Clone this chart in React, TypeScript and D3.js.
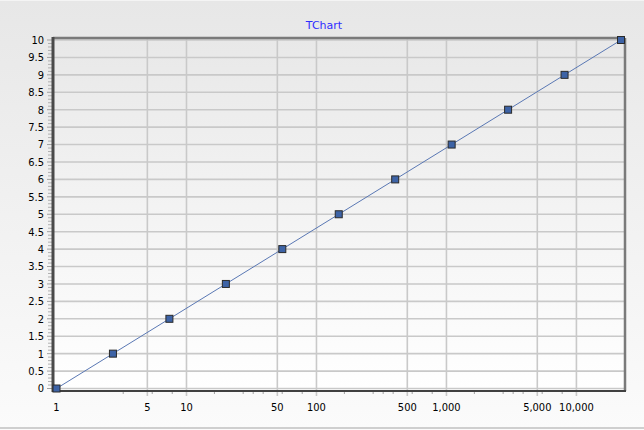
import React from "react";
import * as d3 from "d3";

const xValues = [1, 2.718, 7.389, 20.09, 54.6, 148.4, 403.4, 1096.6, 2981, 8103.1, 22026.5];
const yValues = [0, 1, 2, 3, 4, 5, 6, 7, 8, 9, 10];
const xMajorTicks = [1, 5, 10, 50, 100, 500, 1000, 5000, 10000];
const xMajorLabels = ["1", "5", "10", "50", "100", "500", "1,000", "5,000", "10,000"];
const xMinorTicks = [
  3.26, 5.45, 7.77,
  16.4, 27.3, 32.6, 38.9, 54.5, 77.7,
  164, 273, 326, 389, 545, 777,
  1640, 2730, 3260, 3890, 5450, 7770,
];
const yMajorTicks = [0, 0.5, 1, 1.5, 2, 2.5, 3, 3.5, 4, 4.5, 5, 5.5, 6, 6.5, 7, 7.5, 8, 8.5, 9, 9.5, 10];
const yMinorTicks = d3.range(0, 100).map((i) => i / 10).filter((v) => Math.round(v * 10) % 5 !== 0);
const title = "TChart";

const W = 644;
const H = 430;
const left = 53;
const right = 625;
const top = 38;
const bottom = 391;

export default function App() {
  const x = d3.scaleLog().domain([1, 22026.5]).range([56.5, 621]);
  const y = d3.scaleLinear().domain([0, 10]).range([388.5, 40]);
  const pts: [number, number][] = xValues.map((v, i) => [x(v), y(yValues[i])]);
  const line = d3.line()(pts) || "";
  const font = "Tahoma, 'DejaVu Sans Condensed', 'Liberation Sans', sans-serif";
  return (
    <div style={{ position: "absolute", left: 0, top: 0 }}>
      <svg width={W} height={H} style={{ display: "block" }}>
        <defs>
          <linearGradient id="panel" x1="0" y1="0" x2="0" y2="1">
            <stop offset="0" stopColor="#e7e7e7" />
            <stop offset="1" stopColor="#fbfbfb" />
          </linearGradient>
          <linearGradient id="plot" x1="0" y1="0" x2="0" y2="1">
            <stop offset="0" stopColor="#e8e8e8" />
            <stop offset="1" stopColor="#ffffff" />
          </linearGradient>
        </defs>
        <rect x={0} y={0} width={W} height={H} fill="url(#panel)" />
        <line x1={0} x2={W} y1={0.5} y2={0.5} stroke="#f4f4f4" />
        <line x1={0} x2={W} y1={H - 2} y2={H - 2} stroke="#cfcfcf" strokeWidth={2} />
        <rect x={left} y={top} width={right - left} height={bottom - top} fill="url(#plot)" />
        {yMajorTicks.map((t) => (
          <line key={"gy" + t} x1={left} x2={right} y1={y(t)} y2={y(t)} stroke="#c9c9c9" strokeWidth={1.6} />
        ))}
        {xMajorTicks.filter((t) => t > 1).map((t) => (
          <line key={"gx" + t} x1={x(t)} x2={x(t)} y1={top} y2={bottom + 5} stroke="#c9c9c9" strokeWidth={1.6} />
        ))}
        {xMinorTicks.map((t) => (
          <line key={"mx" + t} x1={x(t)} x2={x(t)} y1={bottom} y2={bottom + 3} stroke="#a0a0a0" strokeWidth={1} />
        ))}
        {yMinorTicks.map((t) => (
          <line key={"my" + t} x1={left - 5} x2={left} y1={y(t)} y2={y(t)} stroke="#b0b0b0" strokeWidth={1} />
        ))}
        {yMajorTicks.map((t) => (
          <line key={"ty" + t} x1={left - 6} x2={left} y1={y(t)} y2={y(t)} stroke="#a0a0a0" strokeWidth={1} />
        ))}
        <line x1={left} x2={right} y1={top} y2={top} stroke="#7a7a7a" strokeWidth={2.5} />
        <line x1={right} x2={right} y1={top} y2={bottom} stroke="#7a7a7a" strokeWidth={2.5} />
        <line x1={left} x2={left} y1={top - 1} y2={bottom + 1} stroke="#4a4a4a" strokeWidth={3} />
        <line x1={left - 1} x2={right + 1} y1={bottom} y2={bottom} stroke="#404040" strokeWidth={2} />
        <path d={line} fill="none" stroke="#5a78b4" strokeWidth={1} />
        {pts.map(([px, py], i) => (
          <rect key={"p" + i} x={px - 3.5} y={py - 3.5} width={7} height={7} fill="#3d63a6" stroke="#2a2a2a" strokeWidth={1} />
        ))}
        {yMajorTicks.map((t) => (
          <text key={"ly" + t} x={44} y={y(t)} dy="0.35em" textAnchor="end" fontFamily={font} fontSize={11} fill="#000">
            {String(t)}
          </text>
        ))}
        {xMajorTicks.map((t, i) => (
          <text key={"lx" + t} x={x(t)} y={411} textAnchor="middle" fontFamily={font} fontSize={11} fill="#000">
            {xMajorLabels[i]}
          </text>
        ))}
        <text x={324} y={29} textAnchor="middle" fontFamily="'DejaVu Sans', sans-serif" fontSize={11} fill="#2e2eff">
          {title}
        </text>
      </svg>
    </div>
  );
}
